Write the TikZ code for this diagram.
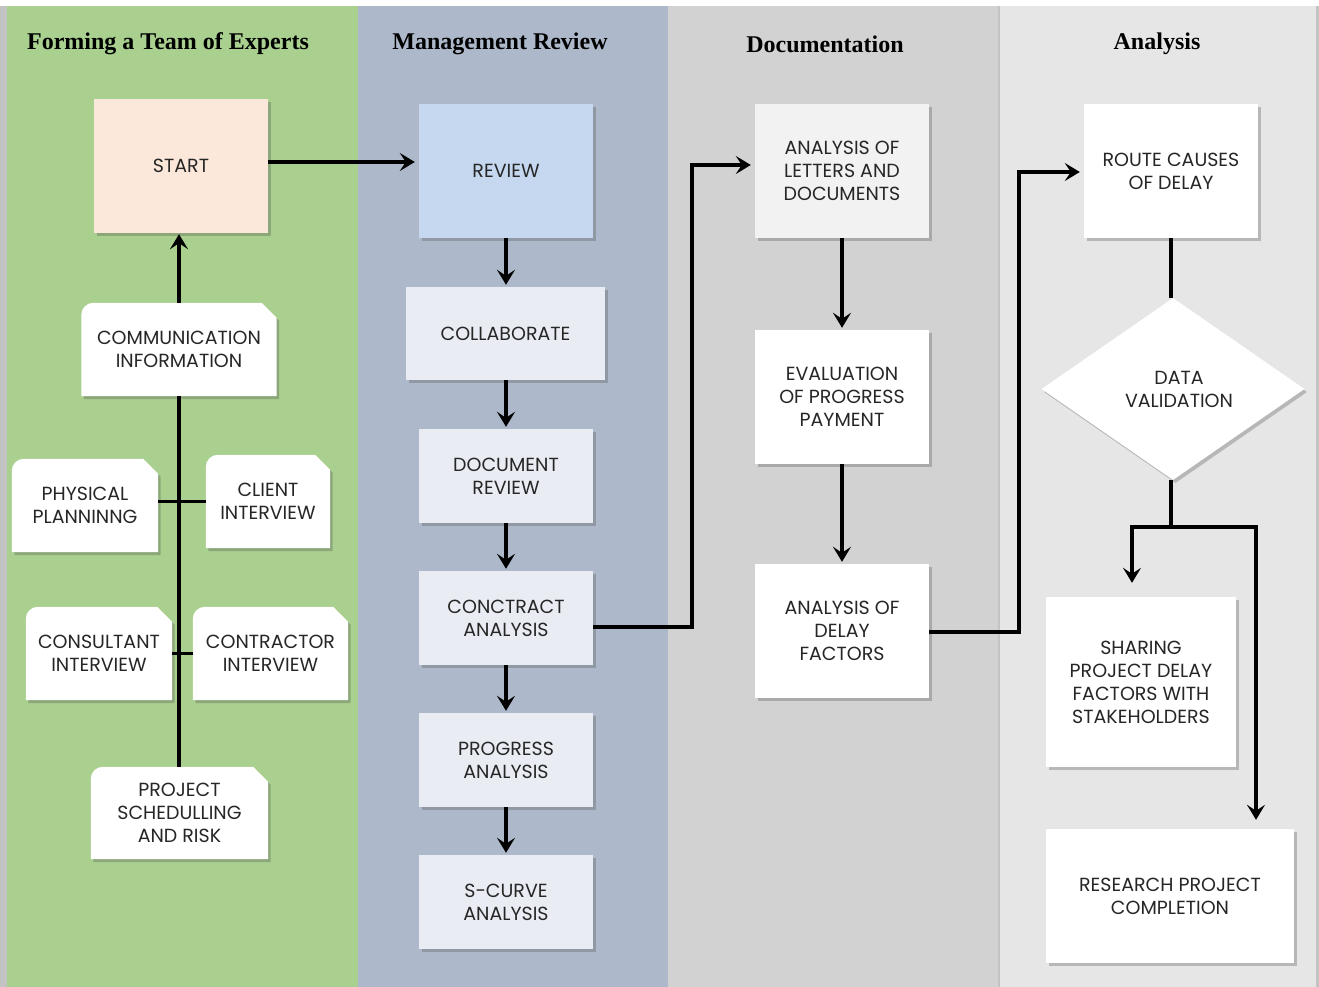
\documentclass[tikz,border=0pt]{standalone}
\usepackage{fontspec}
\setmainfont{Poppins}
\newfontfamily\headfont{Liberation Serif}
\usetikzlibrary{shapes.geometric,shadows,arrows.meta,calc}
\pgfdeclarelayer{lanes}
\pgfdeclarelayer{cards}
\pgfsetlayers{lanes,cards,main}
\definecolor{outerc}{HTML}{C3C3C3}
\definecolor{greenl}{HTML}{A9D08E}
\definecolor{bluel}{HTML}{ADB9CA}
\definecolor{grayl}{HTML}{D2D2D2}
\definecolor{lightl}{HTML}{E6E6E6}
\definecolor{startc}{HTML}{FCE8DA}
\definecolor{reviewc}{HTML}{C5D8EF}
\definecolor{palec}{HTML}{E9EDF3}
\definecolor{lettc}{HTML}{F2F2F2}
\definecolor{txt}{HTML}{262626}
\tikzset{
  x=1pt, y=-1pt,
  lbl/.style={font=\fontsize{19}{23}\selectfont, text=txt, align=center, inner sep=0pt},
  head/.style={font=\headfont\bfseries\fontsize{24}{28}\selectfont, text=black, inner sep=0pt},
  boxshadow/.style={drop shadow={shadow xshift=2.5pt, shadow yshift=-3pt, opacity=0.3, fill=black!70}},
  procbox/.style={lbl, rectangle, minimum width=174pt, minimum height=94pt, boxshadow},
  bigbox/.style={procbox, minimum height=134pt},
  card/.style={lbl, rectangle, minimum height=93pt},
  decision/.style={lbl, diamond, fill=white, minimum width=263pt, minimum height=182pt, boxshadow},
  link/.style={line width=3.6pt, black},
  arr/.style={link, -{Stealth[length=15pt, width=18pt, inset=6pt]}},
}
\newcommand{\cardbg}[1]{%
  \fill[white, boxshadow] (#1.south west) -- ($(#1.north west)+(0,12)$)
    to[out=90, in=180] ($(#1.north west)+(12,0)$)
    -- ($(#1.north east)+(-15,0)$) -- ($(#1.north east)+(0,15)$)
    -- (#1.south east) -- cycle;}
\begin{document}
\begin{tikzpicture}
\useasboundingbox (0,0) rectangle (1319,987);
\begin{pgfonlayer}{lanes}
  \fill[white] (0,0) rectangle (1319,987);
  \fill[outerc] (0,6) rectangle (1319,987);
  \fill[greenl] (7,6) rectangle (358,987);
  \fill[bluel] (358,6) rectangle (668,987);
  \fill[grayl] (668,6) rectangle (998,987);
  \fill[lightl] (1000,6) rectangle (1316,987);
\end{pgfonlayer}

% headings
\node[head] (h1) at (168,44) {Forming a Team of Experts};
\node[head] (h2) at (500,44) {Management Review};
\node[head] (h3) at (825,44) {Documentation};
\node[head] (h4) at (1157,44) {Analysis};

% lane 1
\node[bigbox, fill=startc] (start) at (181,166) {START};
\node[card, minimum width=195pt] (comm) at (179,349.5) {COMMUNICATION\\INFORMATION};
\node[card, minimum width=146pt] (phys) at (85,505.5) {PHYSICAL\\PLANNINNG};
\node[card, minimum width=124pt] (client) at (268,501.5) {CLIENT\\INTERVIEW};
\node[card, minimum width=146pt] (consult) at (99,653.5) {CONSULTANT\\INTERVIEW};
\node[card, minimum width=155pt] (contr) at (270.5,653.5) {CONTRACTOR\\INTERVIEW};
\node[card, minimum width=177pt, minimum height=92pt] (proj) at (179.5,813) {PROJECT\\SCHEDULLING\\AND RISK};
\begin{pgfonlayer}{cards}
  \cardbg{comm}\cardbg{phys}\cardbg{client}\cardbg{consult}\cardbg{contr}\cardbg{proj}
\end{pgfonlayer}

% lane 2
\node[bigbox, fill=reviewc] (review) at (506,171) {REVIEW};
\node[procbox, fill=palec, minimum width=199pt, minimum height=93pt] (collab) at (505.5,333.5) {COLLABORATE};
\node[procbox, fill=palec] (docrev) at (506,476) {DOCUMENT\\REVIEW};
\node[procbox, fill=palec] (contract) at (506,618) {CONCTRACT\\ANALYSIS};
\node[procbox, fill=palec] (progress) at (506,760) {PROGRESS\\ANALYSIS};
\node[procbox, fill=palec] (scurve) at (506,902) {S-CURVE\\ANALYSIS};

% lane 3
\node[bigbox, fill=lettc] (letters) at (842,171) {ANALYSIS OF\\LETTERS AND\\DOCUMENTS};
\node[bigbox, fill=white] (evalp) at (842,397) {EVALUATION\\OF PROGRESS\\PAYMENT};
\node[bigbox, fill=white] (delay) at (842,631) {ANALYSIS OF\\DELAY\\FACTORS};

% lane 4
\node[bigbox, fill=white] (route) at (1171,171) {ROUTE CAUSES\\OF DELAY};
\node[decision] (valid) at (1173,389) {\hspace*{12pt}DATA\\\hspace*{12pt}VALIDATION};
\node[procbox, fill=white, minimum width=190pt, minimum height=170pt] (share) at (1141,682) {SHARING\\PROJECT DELAY\\FACTORS WITH\\STAKEHOLDERS};
\node[bigbox, fill=white, minimum width=248pt] (research) at (1170,896) {RESEARCH PROJECT\\COMPLETION};

% connectors lane 1
\draw[arr, shorten >=1pt] (comm.north) -- (comm.north |- start.south);
\draw[link] (comm.south) -- (comm.south |- proj.north);
\draw[link] (client.west) -- (client.west -| phys.east);
\draw[link] (contr.west) -- (contr.west -| consult.east);

% start -> review
\coordinate (s1) at ([yshift=4pt]start.east);
\draw[arr, shorten >=4pt] (s1) -- (s1 -| review.west);

% lane 2 chain
\draw[arr, shorten >=2pt] (review.south) -- (review.south |- collab.north);
\draw[arr, shorten >=2pt] (collab.south -| docrev.north) -- (docrev.north);
\draw[arr, shorten >=2pt] (docrev.south) -- (contract.north);
\draw[arr, shorten >=2pt] (contract.south) -- (progress.north);
\draw[arr, shorten >=2pt] (progress.south) -- (scurve.north);

% contract -> letters
\coordinate (c1) at ([yshift=-9pt]contract.east);
\coordinate (c2) at ([yshift=6pt]letters.west);
\draw[arr, shorten >=4pt] (c1) -- ++(99,0) |- (c2);

% lane 3 chain
\draw[arr, shorten >=2pt] (letters.south) -- (evalp.north);
\draw[arr, shorten >=2pt] (evalp.south) -- (delay.north);

% delay -> route
\coordinate (d1) at ([yshift=-1pt]delay.east);
\coordinate (d2) at ([yshift=-1pt]route.west);
\draw[arr, shorten >=4pt] (d1) -- ++(90,0) |- (d2);

% lane 4
\draw[link] (route.south) -- (route.south |- valid.north);
\coordinate (split) at ($(valid.south)+(-2,47)$);
\draw[link] (split |- valid.south) -- (split);
\draw[arr, shorten >=14pt] ([xshift=1.8pt]split) -| ([xshift=-9pt]share.north);
\draw[arr, shorten >=9pt] ([xshift=-1.8pt]split) -| ([xshift=86pt]research.north);
\end{tikzpicture}
\end{document}
